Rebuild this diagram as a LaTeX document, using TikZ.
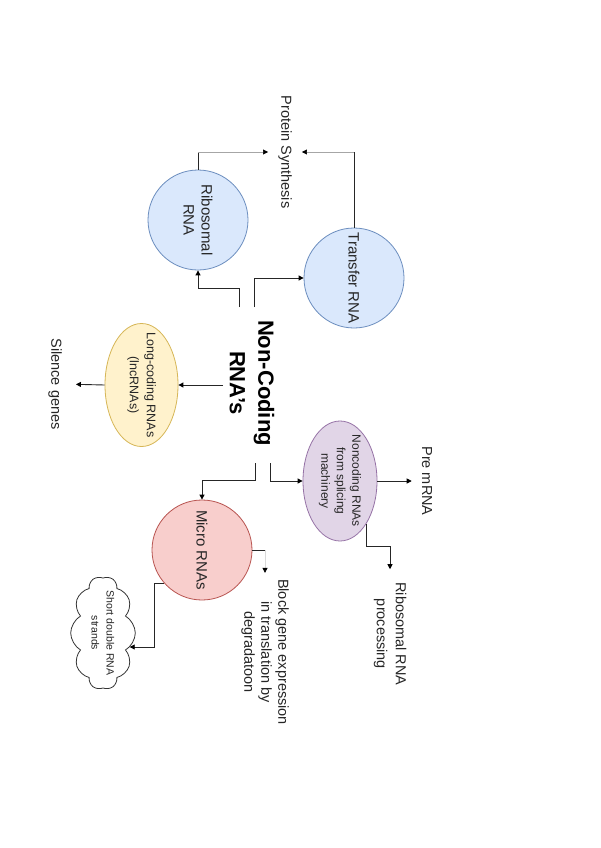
\documentclass[tikz,border=0pt]{standalone}
\usepackage{fontspec}
\setmainfont{Liberation Sans}
\usetikzlibrary{shapes.geometric,shapes.symbols,arrows.meta,calc}
\definecolor{blueF}{HTML}{DAE8FC}\definecolor{blueD}{HTML}{6C8EBF}
\definecolor{yelF}{HTML}{FFF2CC}\definecolor{yelD}{HTML}{D6B656}
\definecolor{purF}{HTML}{E1D5E7}\definecolor{purD}{HTML}{9673A6}
\definecolor{redF}{HTML}{F8CECC}\definecolor{redD}{HTML}{B85450}
\begin{document}
\begin{tikzpicture}[x=1pt,y=-1pt,
  lbl/.style={rotate=-90, inner sep=0pt, align=center, text=black!85, font=\fontsize{14.5}{17}\selectfont},
  bub/.style={circle, rotate=-90, minimum size=100pt, inner sep=0pt, draw=blueD, fill=blueF, line width=0.8pt, align=center, text=black!85, font=\fontsize{15}{18}\selectfont},
  oval/.style={ellipse, rotate=-90, inner xsep=-14pt, inner ysep=0pt, line width=0.8pt, align=center, text=black!85},
  conn/.style={draw=black!85, line width=0.9pt},
  faint/.style={draw=black!35, line width=0.6pt},
  tip/.style={-{Triangle[length=5pt,width=5pt,color=black]}},
  arr/.style={conn, tip}]
\useasboundingbox (0,0) rectangle (600,848);
\fill[white] (0,0) rectangle (600,848);

% central node
\node[rotate=-90, inner sep=0pt, align=center, font=\bfseries\fontsize{22}{28.5}\selectfont] (nc) at (252,383) {Non-Coding\\RNA's};
\coordinate (a1) at (239,307);
\coordinate (a2) at (254,307);
\coordinate (a3) at (223,385);
\coordinate (a4) at (255,463);
\coordinate (a5) at (270,463);

% shapes
\node[bub] (rib) at (198,220) {Ribosomal\\RNA};
\node[bub] (tr) at (354,278) {Transfer RNA};
\node[bub, draw=redD, fill=redF] (mic) at (202,550) {Micro RNAs};
\node[oval, minimum width=123pt, minimum height=73pt, draw=yelD, fill=yelF, font=\fontsize{12.5}{17}\selectfont] (lnc) at (141.5,385) {Long-coding RNAs\\(lncRNAs)};
\node[oval, inner xsep=-8pt, minimum width=120pt, minimum height=74pt, draw=purD, fill=purF, font=\fontsize{12}{15.5}\selectfont] (nsm) at (340,481) {Noncoding RNAs\\from splicing\\machinery};
\node[cloud, cloud puffs=10, cloud puff arc=120, aspect=1.8, rotate=-90, draw=black!80, fill=white, line width=0.8pt, minimum width=113pt, minimum height=63pt, inner xsep=-10pt, inner ysep=0pt, align=center, text=black!85, font=\fontsize{10.5}{15}\selectfont] (cl) at (103,633) {Short double RNA\\strands};

% labels
\node[lbl] (ps) at (285,152) {Protein Synthesis};
\node[lbl] (sg) at (55,384) {Silence genes};
\node[lbl] (pm) at (427,481) {Pre mRNA};
\node[lbl, font=\fontsize{14.5}{19}\selectfont] (rrp) at (390,634) {Ribosomal RNA\\processing};
\node[lbl] (bge) at (265,652) {Block gene expression\\in translation by\\degradatoon};

% connectors
\draw[arr] (a1) -- ++(0,-19) -| (rib.east);
\draw[arr] (a2) |- (tr.south);
\draw[conn] (rib.west) -- (rib.west |- ps) coordinate (k1);
\draw[faint, tip, shorten >=10pt] (k1) -- (ps.south);
\draw[conn] (tr.west) -- (tr.west |- ps) coordinate (k2);
\draw[faint, tip, shorten >=10pt] (k2) -- (ps.north);
\draw[arr] (a3) -- (lnc.north);
\draw[arr, shorten >=14pt] (lnc.south) -- (sg.north);
\draw[arr] (a4) -- ++(0,17) -| (mic.west);
\draw[arr] (a5) |- (nsm.south);
\draw[arr, shorten >=10pt] (nsm.north) -- (pm.south);
\draw[arr, shorten >=13pt] (nsm.31) -- ++(0,22) -| (rrp.west);
\draw[conn] (mic.north) -- (mic.north -| bge.west) coordinate (k3);
\draw[draw=black!15, line width=0.6pt, tip, shorten >=6pt] (k3) -- (bge.west);
\draw[arr] (mic.-49) -- ++(-10,0) |- ([xshift=-6pt,yshift=-14pt]cl.north);
\end{tikzpicture}
\end{document}
